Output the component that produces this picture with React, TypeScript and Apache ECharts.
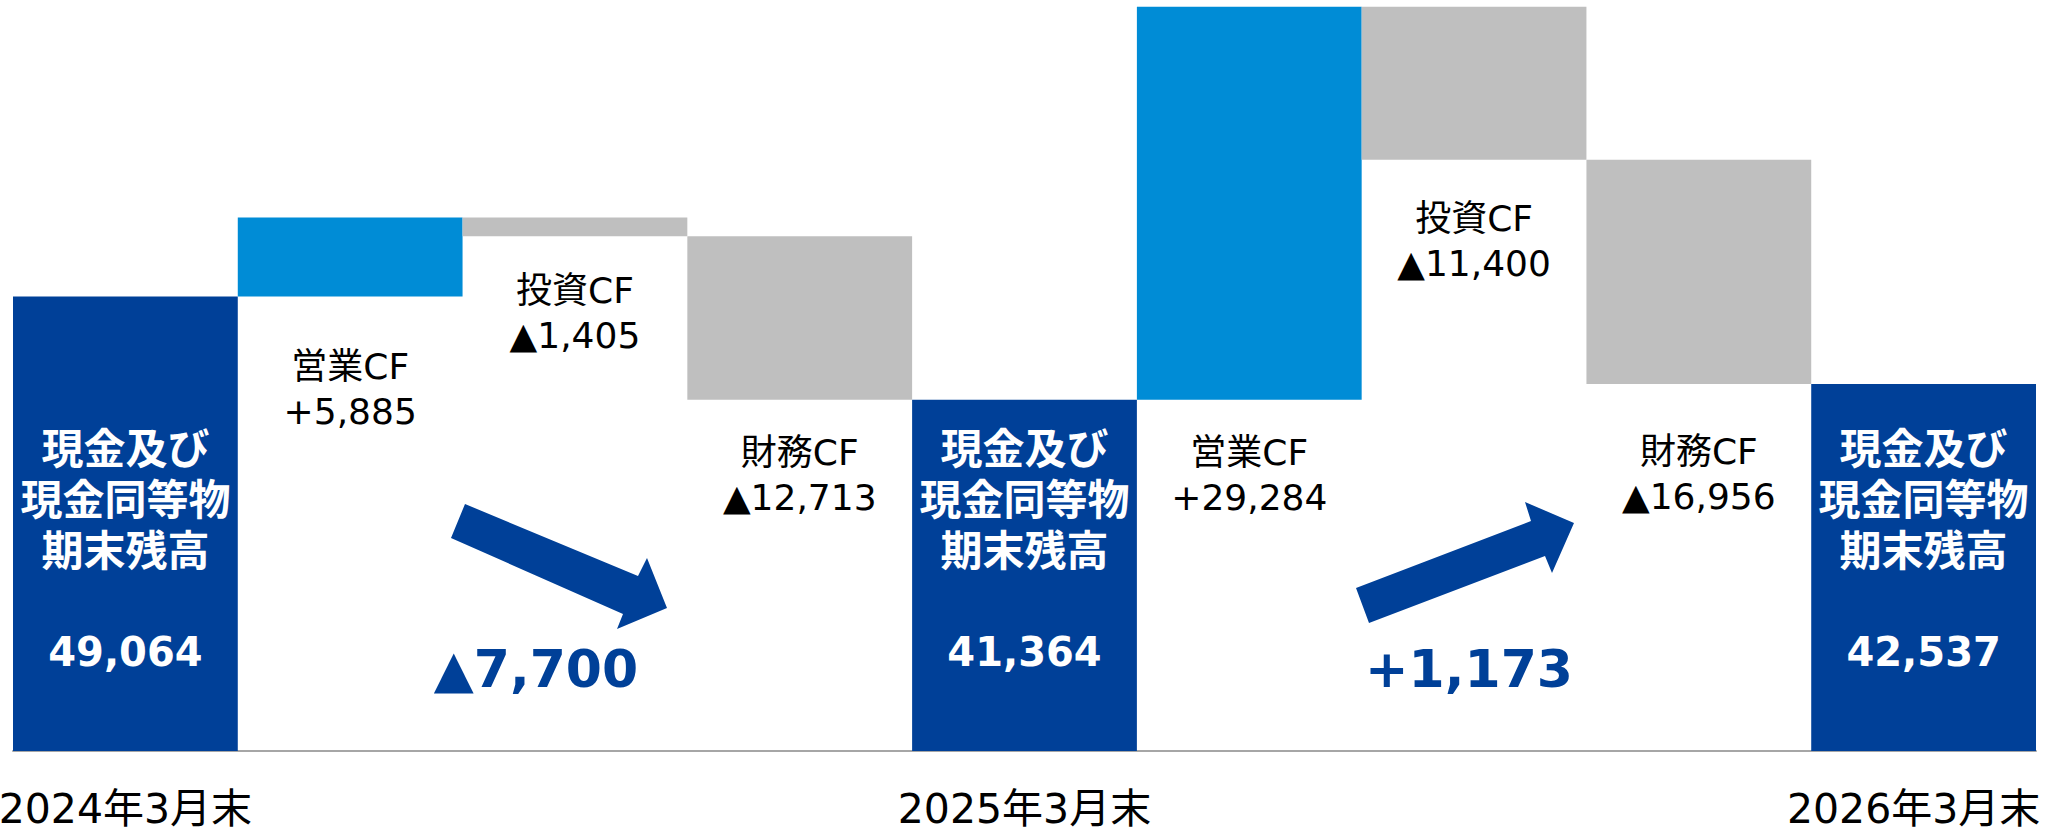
import React, { useEffect, useRef } from 'react';
import * as echarts from 'echarts';

// ---- data ----
const axisLabels = ['2024年3月末', '', '', '', '2025年3月末', '', '', '', '2026年3月末'];
const balanceTitle = '現金及び\n現金同等物\n期末残高';
const flowNames = ['営業CF', '投資CF', '財務CF'];
const balances = [49064, 41364, 42537];
const operatingCF = [5885, 29284];
const investingCF = [-1405, -11400];
const financingCF = [-12713, -16956];

// ---- style ----
const DARK = '#004098';
const LIGHT = '#008CD6';
const GRAY = '#BFBFBF';
const LATIN = "'DejaVu Sans', 'Noto Sans CJK JP', sans-serif";

const fmt = (v: number) => Math.abs(v).toLocaleString('en-US');
const signed = (v: number) => (v >= 0 ? '+' : '▲') + fmt(v);

// build waterfall (transparent base + visible bar)
const baseData: number[] = [];
const barData: any[] = [];
const flowValues: number[] = []; // per index, NaN for balances
balances.forEach((b, p) => {
  baseData.push(0);
  barData.push({ value: b, itemStyle: { color: DARK } });
  flowValues.push(NaN);
  if (p < balances.length - 1) {
    const afterOp = b + operatingCF[p];
    baseData.push(b);
    barData.push({ value: operatingCF[p], itemStyle: { color: LIGHT } });
    flowValues.push(operatingCF[p]);
    const afterInv = afterOp + investingCF[p];
    baseData.push(afterInv);
    barData.push({ value: -investingCF[p], itemStyle: { color: GRAY } });
    flowValues.push(investingCF[p]);
    const next = balances[p + 1];
    baseData.push(next);
    barData.push({ value: afterInv - next, itemStyle: { color: GRAY } });
    flowValues.push(financingCF[p]);
  }
});

export default function App() {
  const ref = useRef<HTMLDivElement>(null);
  useEffect(() => {
    const chart = echarts.init(ref.current!, undefined, { renderer: 'svg' });
    chart.setOption({
      animation: false,
      grid: { left: 13, right: 10, top: 2, bottom: 82, containLabel: false, outerBoundsMode: 'none' },
      xAxis: {
        type: 'category',
        data: axisLabels,
        axisLine: { onZero: false, lineStyle: { color: '#A6A6A6', width: 2 } },
        axisTick: { show: false },
        axisLabel: {
          interval: 0,
          margin: 36,
          color: '#000',
          fontSize: 41,
          lineHeight: 44,
          fontFamily: LATIN,
          hideOverlap: false,
          formatter: (v: string, i: number) => (i === axisLabels.length - 1 ? `{r|${v}}` : v),
          rich: {
            r: { fontSize: 41, lineHeight: 44, fontFamily: LATIN, color: '#000', padding: [0, 20, 0, 0] },
          },
        },
      },
      yAxis: {
        type: 'value',
        min: 15200,
        max: 71000,
        show: false,
        splitLine: { show: false },
      },
      series: [
        {
          type: 'bar',
          stack: 'wf',
          data: baseData,
          itemStyle: { color: 'rgba(0,0,0,0)' },
          barCategoryGap: '0%',
          silent: true,
        },
        {
          type: 'bar',
          stack: 'wf',
          data: barData,
          barCategoryGap: '0%',
        },
      ],
    });

    const cx = (i: number) => chart.convertToPixel({ xAxisIndex: 0 }, i) as number;
    const elements: any[] = [];

    // balance labels
    balances.forEach((b, p) => {
      const idx = p * 4;
      elements.push({
        type: 'text', x: cx(idx), y: 500, z: 100,
        style: { text: balanceTitle, align: 'center', verticalAlign: 'middle', fill: '#fff',
          fontSize: 42, fontWeight: 'bold', fontFamily: LATIN, lineHeight: 51 },
      });
      elements.push({
        type: 'text', x: cx(idx), y: 652, z: 100,
        style: { text: fmt(b), align: 'center', verticalAlign: 'middle', fill: '#fff',
          fontSize: 40, fontWeight: 'bold', fontFamily: LATIN },
      });
    });

    // flow labels (first line centre y)
    const flowY = [366, 290, 452, 452, 218, 451];
    let k = 0;
    flowValues.forEach((v, i) => {
      if (isNaN(v)) return;
      const name = flowNames[(i % 4) - 1];
      elements.push({
        type: 'text', x: cx(i), y: flowY[k] + 22.5, z: 100,
        style: { text: name + '\n' + signed(v), align: 'center', verticalAlign: 'middle', fill: '#000',
          fontSize: 36, fontFamily: LATIN, lineHeight: 45 },
      });
      k++;
    });

    // arrows
    elements.push({
      type: 'polygon', z: 100,
      shape: { points: [[465, 504], [638, 576], [647, 558], [667, 608], [617, 629], [623, 614], [451, 538]] },
      style: { fill: DARK },
    });
    elements.push({
      type: 'polygon', z: 100,
      shape: { points: [[1356, 588], [1531, 521], [1525, 502], [1574, 523], [1552, 573], [1545, 556], [1369, 623]] },
      style: { fill: DARK },
    });

    // period deltas
    const deltas = [balances[1] - balances[0], balances[2] - balances[1]];
    const deltaX = [536, 1469];
    deltas.forEach((d, j) => {
      elements.push({
        type: 'text', x: deltaX[j], y: 669, z: 100,
        style: { text: signed(d), align: 'center', verticalAlign: 'middle', fill: DARK,
          fontSize: 52, fontWeight: 'bold', fontFamily: LATIN },
      });
    });

    chart.setOption({ graphic: { elements } });
    return () => chart.dispose();
  }, []);
  return (
    <div
      ref={ref}
      style={{ position: 'fixed', left: 0, top: 0, width: 2046, height: 833, background: '#fff' }}
    />
  );
}
